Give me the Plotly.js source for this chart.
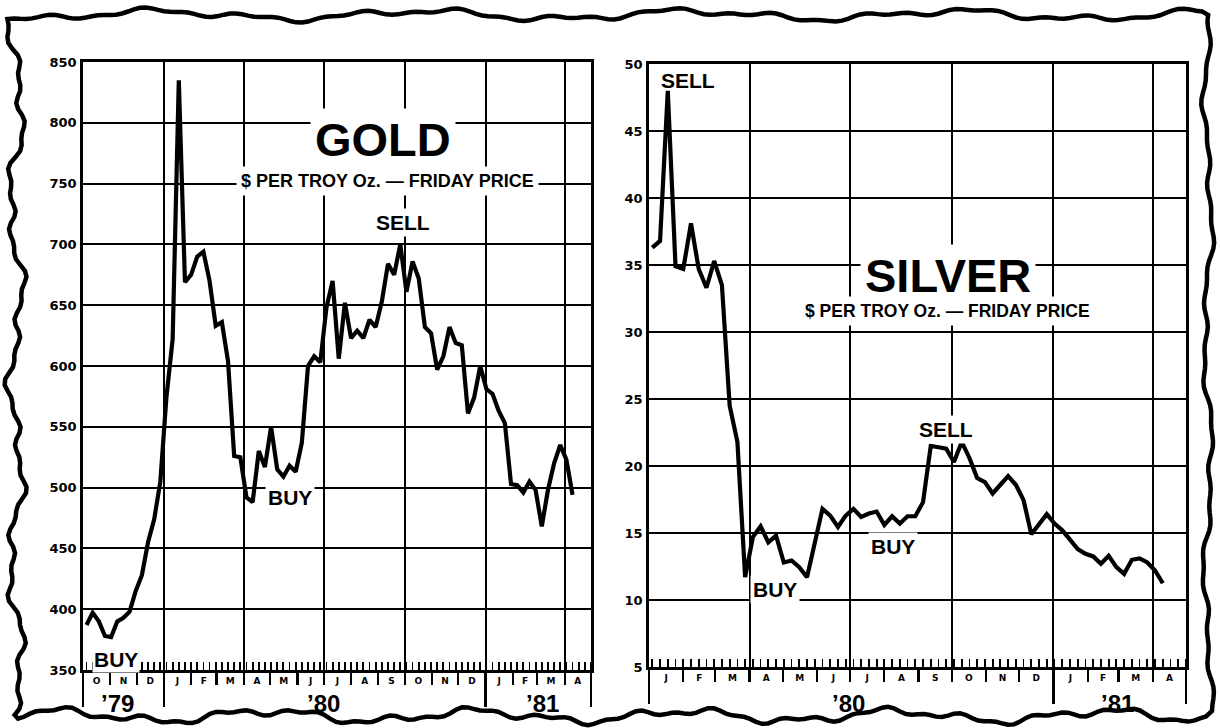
<!DOCTYPE html>
<html>
<head>
<meta charset="utf-8">
<script src="https://cdn.plot.ly/plotly-3.0.1.min.js"></script>
<style>html,body{margin:0;padding:0;background:#fff;}#chart{width:1220px;height:728px;}</style>
</head>
<body>
<div id="chart"></div>
<script>
// ---------------- DATA ----------------
const goldDates = [
 '1979-10-05','1979-10-12','1979-10-19','1979-10-26','1979-11-02','1979-11-09','1979-11-16','1979-11-23','1979-11-30','1979-12-07','1979-12-14','1979-12-21','1979-12-28',
 '1980-01-04','1980-01-11','1980-01-18','1980-01-25','1980-02-01','1980-02-08','1980-02-15','1980-02-22','1980-02-29','1980-03-07','1980-03-14','1980-03-21','1980-03-28',
 '1980-04-04','1980-04-11','1980-04-18','1980-04-25','1980-05-02','1980-05-09','1980-05-16','1980-05-23','1980-05-30','1980-06-06','1980-06-13','1980-06-20','1980-06-27',
 '1980-07-04','1980-07-11','1980-07-18','1980-07-25','1980-08-01','1980-08-08','1980-08-15','1980-08-22','1980-08-29','1980-09-05','1980-09-12','1980-09-19','1980-09-26',
 '1980-10-03','1980-10-10','1980-10-17','1980-10-24','1980-10-31','1980-11-07','1980-11-14','1980-11-21','1980-11-28','1980-12-05','1980-12-12','1980-12-19','1980-12-26',
 '1981-01-02','1981-01-09','1981-01-16','1981-01-23','1981-01-30','1981-02-06','1981-02-13','1981-02-20','1981-02-27','1981-03-06','1981-03-13','1981-03-20','1981-03-27',
 '1981-04-03','1981-04-10'
];
const goldPrices = [
 387,397,390,378,377,390,393,398,415,428,455,474,505,
 575,622,835,669,675,690,694,670,633,636,604,526,525,
 492,488,530,517,550,515,509,518,513,537,600,608,603,
 648,670,606,652,623,629,623,638,632,653,684,675,700,
 661,686,672,632,627,597,608,632,619,617,561,574,600,
 581,577,563,553,503,502,496,505,498,468,498,520,535,
 523,494
];
const silverDates = [
 '1980-01-04','1980-01-11','1980-01-18','1980-01-25','1980-02-01','1980-02-08','1980-02-15','1980-02-22','1980-02-29','1980-03-07','1980-03-14','1980-03-21','1980-03-28',
 '1980-04-04','1980-04-11','1980-04-18','1980-04-25','1980-05-02','1980-05-09','1980-05-16','1980-05-23','1980-05-30','1980-06-06','1980-06-13','1980-06-20','1980-06-27',
 '1980-07-04','1980-07-11','1980-07-18','1980-07-25','1980-08-01','1980-08-08','1980-08-15','1980-08-22','1980-08-29','1980-09-05','1980-09-12','1980-09-19','1980-09-26',
 '1980-10-03','1980-10-10','1980-10-17','1980-10-24','1980-10-31','1980-11-07','1980-11-14','1980-11-21','1980-11-28','1980-12-05','1980-12-12','1980-12-19','1980-12-26',
 '1981-01-02','1981-01-09','1981-01-16','1981-01-23','1981-01-30','1981-02-06','1981-02-13','1981-02-20','1981-02-27','1981-03-06','1981-03-13','1981-03-20','1981-03-27',
 '1981-04-03','1981-04-10'
];
const silverPrices = [
 36.3,36.8,48.0,34.9,34.7,38.1,34.7,33.3,35.3,33.5,24.5,21.8,11.7,
 14.7,15.5,14.3,14.8,12.8,12.95,12.45,11.7,14.2,16.8,16.3,15.45,16.3,
 16.8,16.2,16.45,16.6,15.6,16.25,15.7,16.25,16.25,17.3,21.5,21.4,21.3,
 20.3,21.8,20.6,19.1,18.8,17.95,18.6,19.25,18.6,17.45,14.9,15.6,16.4,
 15.7,15.2,14.5,13.8,13.45,13.25,12.7,13.3,12.45,11.95,13.0,13.1,12.8,
 12.2,11.25
];
const goldMonthLetters   = ['O','N','D','J','F','M','A','M','J','J','A','S','O','N','D','J','F','M','A'];
const silverMonthLetters = ['J','F','M','A','M','J','J','A','S','O','N','D','J','F','M','A'];
const goldYearLabels   = ['\u201979','\u201980','\u201981'];
const silverYearLabels = ['\u201980','\u201981'];
const goldTitle = 'GOLD', silverTitle = 'SILVER';
const subTitle = '$ PER TROY Oz. \u2014 FRIDAY PRICE';

// ---------------- AXIS HELPERS ----------------
function iso(ms){ return new Date(ms).toISOString().slice(0,10); }
function monthStarts(y, m, n){ const a=[]; for(let i=0;i<=n;i++) a.push(iso(Date.UTC(y,m+i,1))); return a; }
function monthMids(y, m, n){ const a=[]; for(let i=0;i<n;i++){ const s=Date.UTC(y,m+i,1), e=Date.UTC(y,m+i+1,1); a.push(new Date((s+e)/2).toISOString().slice(0,19).replace('T',' ')); } return a; }
function quarterStarts(list){ return list.filter(d => ['01','04','07','10'].includes(d.slice(5,7))); }
function yearBounds(list){ return list.filter((d,i) => i===0 || i===list.length-1 || d.slice(5,7)==='01'); }

const gStarts = monthStarts(1979, 9, 19), gMids = monthMids(1979, 9, 19);
const sStarts = monthStarts(1980, 0, 16), sMids = monthMids(1980, 0, 16);
const gRange = [gStarts[0], gStarts[gStarts.length-1]];
const sRange = [sStarts[0], sStarts[sStarts.length-1]];

const W = 1220, H = 728;
const goldDomX = [83/W, 591/W], goldDomY = [(H-670)/H, (H-62)/H];
const silvDomX = [649/W, 1186/W], silvDomY = [(H-667)/H, (H-64)/H];

const FONT = 'Liberation Sans, Arial, Helvetica, sans-serif';
const BOLDNUM = 'DejaVu Sans, Liberation Sans, sans-serif';

function mainX(dom, yId, range, quarters, tick0){
  return { domain: dom, anchor: yId, type: 'date', range: range,
    tickmode: 'array', tickvals: quarters, ticks: '', showticklabels: false,
    showgrid: true, gridcolor: '#000', gridwidth: 2,
    showline: true, linecolor: '#000', linewidth: 2.8, mirror: true, zeroline: false,
    minor: { tickmode: 'linear', tick0: tick0, dtick: 604800000, ticks: 'inside', ticklen: 8, tickwidth: 1.8, tickcolor: '#000', showgrid: false } };
}
function labelX(over, yId, range, mids, letters){
  return { overlaying: over, anchor: yId, type: 'date', range: range, tickmode: 'array', tickvals: mids, ticktext: letters,
    ticks: '', showgrid: false, showline: false, zeroline: false, ticklabelstandoff: 4,
    tickfont: { family: BOLDNUM, size: 9, color: '#000', weight: 'bold' } };
}
function tickX(over, yId, range, vals, len){
  return { overlaying: over, anchor: yId, type: 'date', range: range, tickmode: 'array', tickvals: vals,
    ticks: 'outside', ticklen: len, tickwidth: 2.2, tickcolor: '#000', showticklabels: false,
    showgrid: false, showline: false, zeroline: false };
}
function mainY(dom, xId, range, dtick){
  return { domain: dom, anchor: xId, range: range, tickmode: 'linear', tick0: range[0], dtick: dtick,
    showgrid: true, gridcolor: '#000', gridwidth: 2, showline: true, linecolor: '#000', linewidth: 2.8, mirror: true,
    zeroline: false, ticks: '', ticklabelstandoff: 1, tickfont: { family: BOLDNUM, size: 13, color: '#000', weight: 'bold' } };
}

const traces = [
  { x: goldDates, y: goldPrices, xaxis: 'x', yaxis: 'y', type: 'scatter', mode: 'lines',
    line: { color: '#000', width: 4.2, shape: 'linear' }, hoverinfo: 'skip' },
  { x: silverDates, y: silverPrices, xaxis: 'x2', yaxis: 'y2', type: 'scatter', mode: 'lines',
    line: { color: '#000', width: 4.2, shape: 'linear' }, hoverinfo: 'skip' },
  { x: [], y: [], xaxis: 'x3', yaxis: 'y', type: 'scatter' },
  { x: [], y: [], xaxis: 'x5', yaxis: 'y', type: 'scatter' },
  { x: [], y: [], xaxis: 'x7', yaxis: 'y', type: 'scatter' },
  { x: [], y: [], xaxis: 'x4', yaxis: 'y2', type: 'scatter' },
  { x: [], y: [], xaxis: 'x6', yaxis: 'y2', type: 'scatter' },
  { x: [], y: [], xaxis: 'x8', yaxis: 'y2', type: 'scatter' }
];

function lab(xref, yref, x, y, text, size, bg, extra){
  return Object.assign({ xref: xref, yref: yref, x: x, y: y, text: text, showarrow: false,
    font: { family: FONT, size: size, color: '#000' }, bgcolor: bg ? '#fff' : 'rgba(0,0,0,0)', borderpad: 2,
    xanchor: 'center', yanchor: 'middle' }, extra || {});
}

const annotations = [
  // gold
  lab('x','y','1980-01-24',852,'<b>SELL</b>',21,true),
  lab('x','y','1980-09-06',786,'<b>'+goldTitle+'</b>',47,true,{borderpad:4}),
  lab('x','y','1980-09-12',752,'<b>'+subTitle+'</b>',18,true,{borderpad:4}),
  lab('x','y','1980-09-29',718,'<b>SELL</b>',21,true),
  lab('x','y','1980-05-23',492,'<b>BUY</b>',21,true),
  lab('x','y','1979-11-07',359,'<b>BUY</b>',21,true,{borderpad:1}),
  lab('x','paper','1979-11-09',0.034,'<b>'+goldYearLabels[0]+'</b>',24,false),
  lab('x','paper','1980-07-01',0.034,'<b>'+goldYearLabels[1]+'</b>',24,false),
  lab('x','paper','1981-03-07',0.034,'<b>'+goldYearLabels[2]+'</b>',24,false),
  // silver
  lab('x2','y2','1980-02-05',48.8,'<b>SELL</b>',21,false),
  lab('x2','y2','1980-09-28',34.25,'<b>'+silverTitle+'</b>',47,true,{borderpad:4}),
  lab('x2','y2','1980-09-27',31.6,'<b>'+subTitle+'</b>',17.5,true,{borderpad:4}),
  lab('x2','y2','1980-09-26',22.7,'<b>SELL</b>',21,true),
  lab('x2','y2','1980-04-24',10.75,'<b>BUY</b>',21,true),
  lab('x2','y2','1980-08-09',14.0,'<b>BUY</b>',21,true),
  lab('x2','paper','1980-06-30',0.034,'<b>'+silverYearLabels[0]+'</b>',24,false),
  lab('x2','paper','1981-02-28',0.034,'<b>'+silverYearLabels[1]+'</b>',24,false)
];

// decorative torn-paper frame
function wob(t, s){ return Math.sin(t*0.9+s)*1.0 + Math.sin(t*2.3+s*2.1)*0.6 + Math.sin(t*5.3+s*3.7)*0.35; }
function frame(){
  const pts = [];
  for (let px=14; px<=1206; px+=6) pts.push([px, 15 + 4*wob(px/38, 1)]);
  for (let py=15; py<=715; py+=6) pts.push([1208 + 3.5*wob(py/34, 2), py]);
  for (let px=1206; px>=14; px-=6) pts.push([px, 716 + 5*wob(px/30, 3)]);
  for (let py=715; py>=15; py-=6) pts.push([16 + 6*wob(py/26, 4), py]);
  return 'M ' + pts.map(p => (p[0]/W).toFixed(5)+' '+(1-p[1]/H).toFixed(5)).join(' L ') + ' Z';
}

const layout = {
  width: W, height: H, margin: { l: 0, r: 0, t: 0, b: 0 },
  paper_bgcolor: '#fff', plot_bgcolor: '#fff', showlegend: false,
  font: { family: FONT, color: '#000' },
  xaxis:  mainX(goldDomX, 'y', gRange, quarterStarts(gStarts), '1979-10-05'),
  yaxis:  mainY(goldDomY, 'x', [350, 850], 50),
  xaxis3: labelX('x', 'y', gRange, gMids, goldMonthLetters),
  xaxis5: tickX('x', 'y', gRange, gStarts, 14),
  xaxis7: tickX('x', 'y', gRange, yearBounds(gStarts), 36),
  xaxis2: mainX(silvDomX, 'y2', sRange, quarterStarts(sStarts), '1980-01-04'),
  yaxis2: mainY(silvDomY, 'x2', [5, 50], 5),
  xaxis4: labelX('x2', 'y2', sRange, sMids, silverMonthLetters),
  xaxis6: tickX('x2', 'y2', sRange, sStarts, 14),
  xaxis8: tickX('x2', 'y2', sRange, yearBounds(sStarts), 36),
  annotations: annotations,
  shapes: [ { type: 'path', xref: 'paper', yref: 'paper', path: frame(), line: { color: '#000', width: 4.5 }, fillcolor: 'rgba(0,0,0,0)' } ]
};

Plotly.newPlot('chart', traces, layout, { staticPlot: true, displayModeBar: false });
</script>
</body>
</html>
